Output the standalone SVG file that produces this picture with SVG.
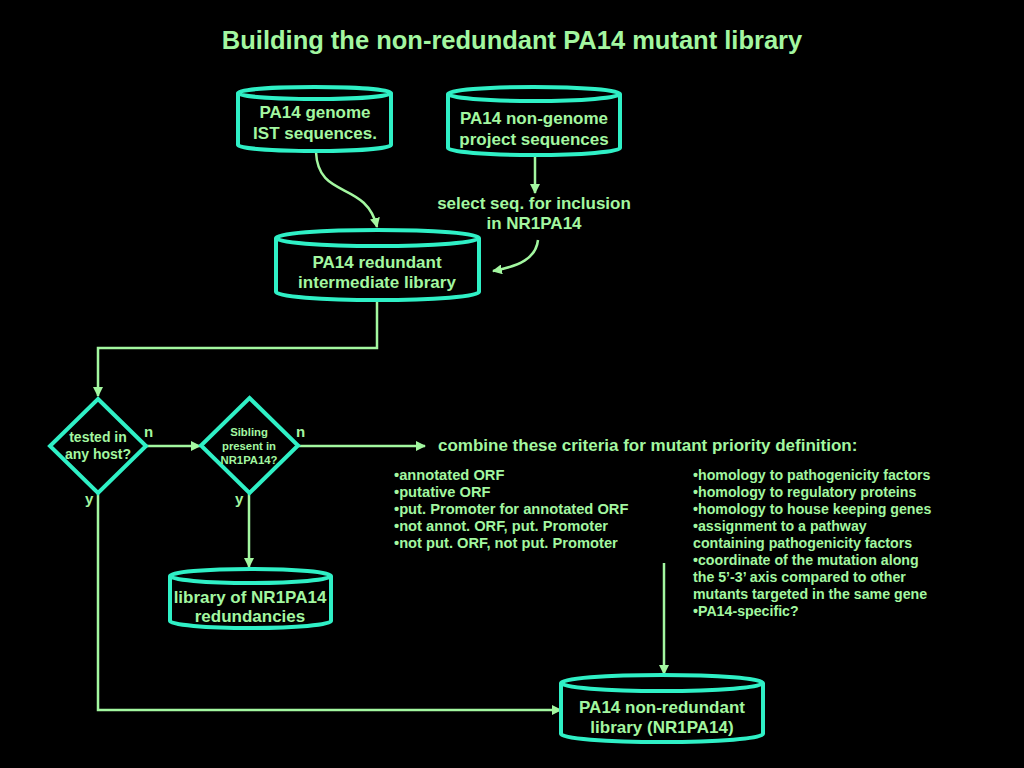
<svg xmlns="http://www.w3.org/2000/svg" width="1024" height="768" viewBox="0 0 1024 768">
<style>
.bg{fill:#000}
.cyl{fill:#000;stroke:#2ff0c6;stroke-width:4}
.dia{fill:#000;stroke:#2ff0c6;stroke-width:4;stroke-linejoin:miter}
.t{font-family:"Liberation Sans",Arial,sans-serif;font-weight:bold;fill:#a3f7a0}
.c{text-anchor:middle}
.n17{font-size:17px}
.n14{font-size:14px}
.l{font-size:14.7px}
.r{font-size:14.2px}
.n11{font-size:11.3px}
.n15{font-size:15px}
.conn{fill:none;stroke:#a3f7a0;stroke-width:2.5}
</style>
<defs>
<marker id="ah" viewBox="0 0 10 10" refX="9" refY="5" markerWidth="4" markerHeight="4" orient="auto" markerUnits="strokeWidth">
<path d="M0,0 L10,5 L0,10 z" fill="#a3f7a0"/>
</marker>
</defs>
<rect class="bg" x="0" y="0" width="1024" height="768"/>
<text class="t c" x="512" y="49" font-size="25.5">Building the non-redundant PA14 mutant library</text>

<g id="connectors">
<path class="conn" d="M316,152 C318,200 366,180 377,227" marker-end="url(#ah)"/>
<path class="conn" d="M535,156 L535,193" marker-end="url(#ah)"/>
<path class="conn" d="M538,240 C536,258 520,266 493,271" marker-end="url(#ah)"/>
<path class="conn" d="M377,301 L377,348 L98,348 L98,396" marker-end="url(#ah)"/>
<path class="conn" d="M146,446 L200,446" marker-end="url(#ah)"/>
<path class="conn" d="M298,446 L425,446" marker-end="url(#ah)"/>
<path class="conn" d="M249,494 L249,567" marker-end="url(#ah)"/>
<path class="conn" d="M98,494 L98,710 L561,710" marker-end="url(#ah)"/>
<path class="conn" d="M664,563 L664,674" marker-end="url(#ah)"/>
</g>

<g id="node-genome">
<path class="cyl" d="M238,93 L238,145 A76.5,6 0 0 0 391,145 L391,93"/>
<ellipse class="cyl" cx="314.5" cy="93" rx="76.5" ry="6"/>
<text class="t c n17" x="315" y="118">PA14 genome</text>
<text class="t c n17" x="315" y="139">IST sequences.</text>
</g>

<g id="node-nongenome">
<path class="cyl" d="M448,94 L448,148 A86,7 0 0 0 620,148 L620,94"/>
<ellipse class="cyl" cx="534" cy="94" rx="86" ry="7"/>
<text class="t c n17" x="534" y="124">PA14 non-genome</text>
<text class="t c n17" x="534" y="145">project sequences</text>
</g>

<g id="label-select">
<text class="t c n17" x="534" y="209">select seq. for inclusion</text>
<text class="t c n17" x="534" y="229">in NR1PA14</text>
</g>

<g id="node-redundant">
<path class="cyl" d="M276,238 L276,292 A101.5,8 0 0 0 479,292 L479,238"/>
<ellipse class="cyl" cx="377.5" cy="238" rx="101.5" ry="8"/>
<text class="t c n17" x="377" y="268">PA14 redundant</text>
<text class="t c n17" x="377" y="288">intermediate library</text>
</g>

<g id="node-tested">
<polygon class="dia" points="98,399 146,446 98,493 50,446"/>
<text class="t c n14" x="98" y="442">tested in</text>
<text class="t c n14" x="98" y="459">any host?</text>
<text class="t n15" x="144" y="437">n</text>
<text class="t n15" x="85" y="504">y</text>
</g>

<g id="node-sibling">
<polygon class="dia" points="249.5,398 298,445.5 249.5,493 201,445.5"/>
<text class="t c n11" x="249" y="436">Sibling</text>
<text class="t c n11" x="249" y="450">present in</text>
<text class="t c n11" x="249" y="464">NR1PA14?</text>
<text class="t n15" x="296" y="437">n</text>
<text class="t n15" x="235" y="504">y</text>
</g>

<g id="node-redundancies">
<path class="cyl" d="M170,576 L170,621 A80.5,7 0 0 0 331,621 L331,576"/>
<ellipse class="cyl" cx="250.5" cy="576" rx="80.5" ry="7"/>
<text class="t c n17" x="250" y="603">library of NR1PA14</text>
<text class="t c n17" x="250" y="622">redundancies</text>
</g>

<g id="criteria">
<text class="t n17" x="438" y="451">combine these criteria for mutant priority definition:</text>
<g class="t l">
<text x="394" y="480">•annotated ORF</text>
<text x="394" y="497">•putative ORF</text>
<text x="394" y="514">•put. Promoter for annotated ORF</text>
<text x="394" y="531">•not annot. ORF, put. Promoter</text>
<text x="394" y="548">•not put. ORF, not put. Promoter</text>
</g>
<g class="t r">
<text x="693" y="480">•homology to pathogenicity factors</text>
<text x="693" y="497">•homology to regulatory proteins</text>
<text x="693" y="514">•homology to house keeping genes</text>
<text x="693" y="531">•assignment to a pathway</text>
<text x="693" y="548">containing pathogenicity factors</text>
<text x="693" y="565">•coordinate of the mutation along</text>
<text x="693" y="582">the 5’-3’ axis compared to other</text>
<text x="693" y="599">mutants targeted in the same gene</text>
<text x="693" y="616">•PA14-specific?</text>
</g>
</g>

<g id="node-nonredundant">
<path class="cyl" d="M561,683 L561,734 A101,8 0 0 0 763,734 L763,683"/>
<ellipse class="cyl" cx="662" cy="683" rx="101" ry="8"/>
<text class="t c n17" x="662" y="713">PA14 non-redundant</text>
<text class="t c n17" x="662" y="733">library (NR1PA14)</text>
</g>
</svg>
